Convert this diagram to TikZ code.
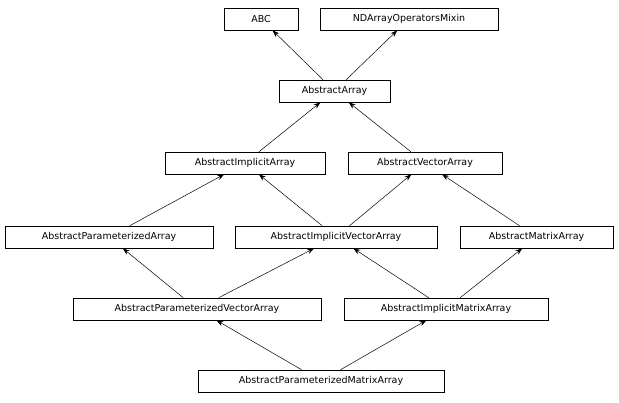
\documentclass[tikz,border=0pt]{standalone}
\usepackage{fontspec}
\setmainfont{DejaVu Sans}
\usetikzlibrary{arrows.meta}
\begin{document}
\begin{tikzpicture}[x=1pt,y=-1pt,
  cls/.style={draw,line width=0.6pt,minimum height=22pt,inner sep=0pt,font=\fontsize{9.5}{11}\selectfont,anchor=center},
  inh/.style={draw,line width=0.5pt,-{Stealth[length=7pt,width=5pt]}}]
\useasboundingbox (0,0) rectangle (619,403);
\node[cls,minimum width=74pt] (abc) at (261,19) {ABC};
\node[cls,minimum width=178pt] (nd) at (409,19) {NDArrayOperatorsMixin};
\node[cls,minimum width=111pt] (aa) at (334.5,91) {AbstractArray};
\node[cls,minimum width=160pt] (aia) at (245,163) {AbstractImplicitArray};
\node[cls,minimum width=154pt] (ava) at (425,163) {AbstractVectorArray};
\node[cls,minimum width=208pt] (apa) at (109,237) {AbstractParameterizedArray};
\node[cls,minimum width=202pt] (aiva) at (336,237) {AbstractImplicitVectorArray};
\node[cls,minimum width=153pt] (ama) at (536.5,237) {AbstractMatrixArray};
\node[cls,minimum width=248pt] (apva) at (197,309) {AbstractParameterizedVectorArray};
\node[cls,minimum width=204pt] (aima) at (446,309) {AbstractImplicitMatrixArray};
\node[cls,minimum width=246pt] (apma) at (321,381) {AbstractParameterizedMatrixArray};
\draw[inh] (aa) -- (abc);
\draw[inh] (aa) -- (nd);
\draw[inh] (aia) -- (aa);
\draw[inh] (ava) -- (aa);
\draw[inh] (apa) -- (aia);
\draw[inh] (aiva) -- (aia);
\draw[inh] (aiva) -- (ava);
\draw[inh] (ama) -- (ava);
\draw[inh] (apva) -- (apa);
\draw[inh] (apva) -- (aiva);
\draw[inh] (aima) -- (aiva);
\draw[inh] (aima) -- (ama);
\draw[inh] (apma) -- (apva);
\draw[inh] (apma) -- (aima);
\end{tikzpicture}
\end{document}
